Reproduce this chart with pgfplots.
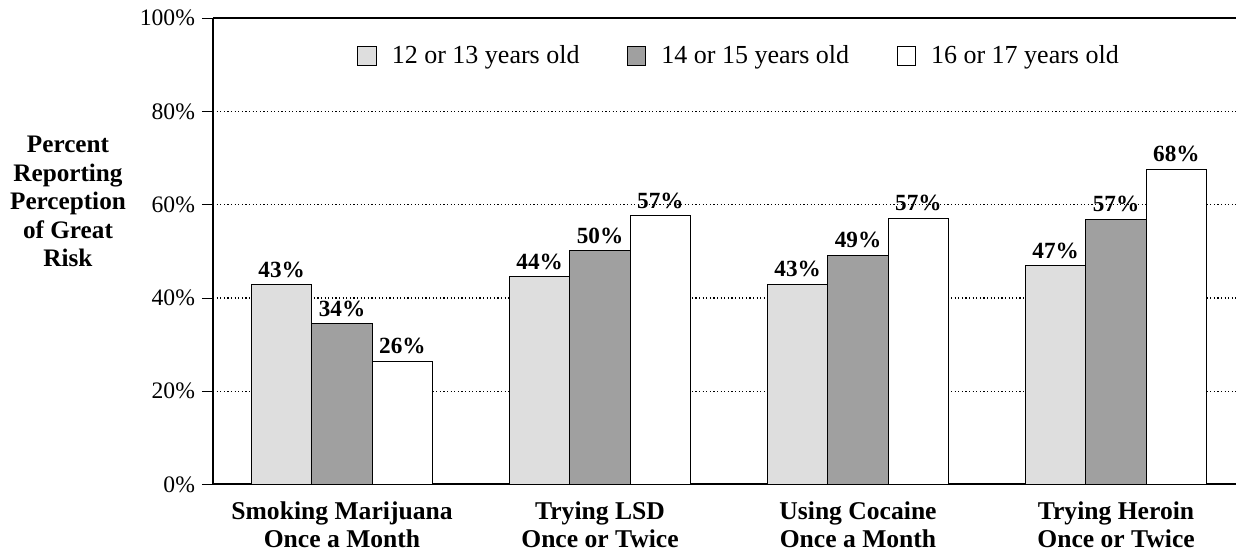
\documentclass[border=0pt]{standalone}
\usepackage{pgfplots}
\pgfplotsset{compat=1.18}
\usepackage{pgfplotstable}
\usepackage{fontspec}
\setmainfont{Liberation Serif}
\definecolor{lgray}{HTML}{DEDEDE}
\definecolor{dgray}{HTML}{A0A0A0}
\pgfplotsset{sqleg/.style={legend image code/.code={\draw[##1] (0pt,-4.6pt) rectangle (9.2pt,4.6pt);}}}
\pgfplotstableread{
x y lab
0 42.9 43
1 44.6 44
2 43.0 43
3 46.9 47
}\ta
\pgfplotstableread{
x y lab
0 34.5 34
1 50.1 50
2 49.2 49
3 56.9 57
}\tb
\pgfplotstableread{
x y lab
0 26.4 26
1 57.6 57
2 57.1 57
3 67.6 68
}\tc
\begin{document}
\begin{tikzpicture}
\begin{axis}[
  scale only axis, width=511.5pt, height=233.1pt,
  xmin=-0.5, xmax=3.465, ymin=0, ymax=100,
  ybar=0pt, bar width=0.234,
  axis x line*=bottom, axis y line*=left,
  axis line style={line width=1pt,-},
  clip=false,
  xtick={0,1,2,3},
  xticklabels={{Smoking Marijuana\\Once a Month},{Trying LSD\\Once or Twice},{Using Cocaine\\Once a Month},{Trying Heroin\\Once or Twice}},
  xticklabel style={align=center, font=\bfseries\fontsize{12.8}{13.8}\selectfont, inner sep=1pt, yshift=-2pt},
  x tick style={draw=none},
  ytick={0,20,40,60,80,100},
  yticklabel={\pgfmathprintnumber{\tick}\%},
  /pgf/number format/assume math mode=true,
  yticklabel style={font=\fontsize{11.8}{12}\selectfont},
  y tick style={black, line width=0.5pt},
  tick align=outside, major tick length=5.5pt,
  ymajorgrids, grid style={black, line width=0.6pt, dash pattern=on 0.6pt off 1.2pt},
  ylabel={Percent\\Reporting\\Perception\\of Great\\Risk},
  ylabel style={rotate=-90, align=center, font=\bfseries\fontsize{12.6}{14.2}\selectfont, at={(rel axis cs:0,0.607)}, anchor=center, xshift=-72.5pt},
  point meta=explicit symbolic,
  nodes near coords={\pgfplotspointmeta\%},
  nodes near coords style={font=\bfseries\fontsize{11.6}{12}\selectfont, black},
  legend columns=-1,
  legend style={draw=none, fill=none, at={(rel axis cs:0.1408,0.919)}, anchor=west, inner sep=0pt, font=\fontsize{13}{14}\selectfont, /tikz/every odd column/.append style={column sep=5.5pt}, /tikz/every even column/.append style={column sep=21.75pt}},
]
\addplot[fill=lgray, draw=black, line width=0.5pt, sqleg] table[x=x, y=y, meta=lab] {\ta};
\addplot[fill=dgray, draw=black, line width=0.5pt, sqleg] table[x=x, y=y, meta=lab] {\tb};
\addplot[fill=white, draw=black, line width=0.5pt, sqleg] table[x=x, y=y, meta=lab] {\tc};
\legend{12 or 13 years old, 14 or 15 years old, 16 or 17 years old}
\draw[line width=1pt] (rel axis cs:0,1) -- (rel axis cs:1,1);
\coordinate (bl) at (rel axis cs:0,0);
\coordinate (tr) at (rel axis cs:1,1);
\end{axis}
\pgfresetboundingbox
\path ([xshift=-106.5pt,yshift=-32.75pt]bl) rectangle ([yshift=9.15pt]tr);
\end{tikzpicture}
\end{document}
